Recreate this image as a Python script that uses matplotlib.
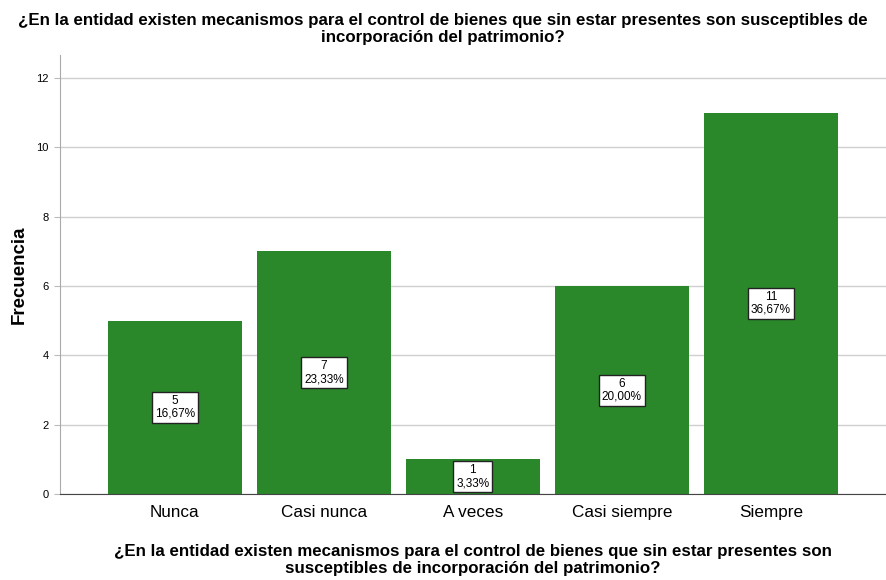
import numpy as np
import matplotlib.pyplot as plt

plt.rcParams['font.family'] = ['Liberation Sans', 'DejaVu Sans']

categorias = ['Nunca', 'Casi nunca', 'A veces', 'Casi siempre', 'Siempre']
frecuencias = [5, 7, 1, 6, 11]
porcentajes = ['16,67%', '23,33%', '3,33%', '20,00%', '36,67%']

titulo = ('¿En la entidad existen mecanismos para el control de bienes que sin estar presentes son susceptibles de\n'
          'incorporación del patrimonio?')
etiqueta_x = ('¿En la entidad existen mecanismos para el control de bienes que sin estar presentes son\n'
              'susceptibles de incorporación del patrimonio?')

fig = plt.figure(figsize=(8.86, 5.8), dpi=100)
ax = fig.add_axes([0.0677, 0.148, 0.932, 0.757])

x = np.arange(len(categorias))
ax.bar(x, frecuencias, width=0.897, color='#2a882a', zorder=2)

for i, (f, p) in enumerate(zip(frecuencias, porcentajes)):
    ax.text(i, f / 2, '%d\n%s' % (f, p), ha='center', va='center', fontsize=8.5,
            linespacing=1.1, zorder=3,
            bbox=dict(boxstyle='square,pad=0.25', fc='white', ec='#222222', lw=1))

ax.set_xlim(-0.77, 4.77)
ax.set_ylim(0, 12.66)
ax.set_yticks([0, 2, 4, 6, 8, 10, 12])
ax.set_xticks(x)
ax.set_xticklabels(categorias, fontsize=12.3)
ax.tick_params(axis='x', length=0, pad=8)
ax.tick_params(axis='y', length=4, color='#bbbbbb', labelsize=8, pad=4)
ax.yaxis.grid(True, color='#d0d0d0', lw=1, zorder=0)

for s in ['top', 'right']:
    ax.spines[s].set_visible(False)
ax.spines['left'].set_color('#aaaaaa')
ax.spines['bottom'].set_color('#444444')

ax.set_ylabel('Frecuencia', fontsize=13.5, fontweight='bold', labelpad=6)
ax.set_xlabel(etiqueta_x, fontsize=12.2, fontweight='bold', labelpad=17, linespacing=1.15)
fig.suptitle(titulo, fontsize=12.2, fontweight='bold', y=0.977, linespacing=1.15)

fig.savefig('out.png', dpi=100)
